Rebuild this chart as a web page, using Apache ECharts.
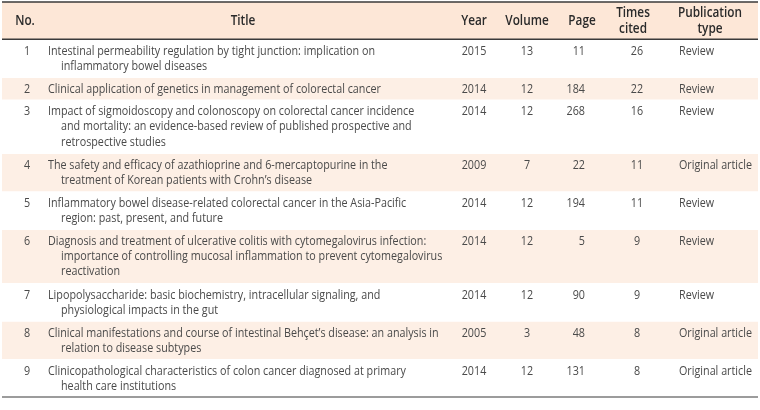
<!DOCTYPE html>
<html><head><meta charset="utf-8">
<script src="https://cdn.jsdelivr.net/npm/echarts@6/dist/echarts.min.js"></script>
<style>html,body{margin:0;padding:0;background:#fff}#c{width:760px;height:410px}</style>
</head><body><div id="c"></div>
<script>
// ---------- data ----------
const headerLabels = ['No.', 'Title', 'Year', 'Volume', 'Page', 'Times\ncited', 'Publication\ntype'];
const nos = ['1', '2', '3', '4', '5', '6', '7', '8', '9'];
const titles = [
  ['Intestinal permeability regulation by tight junction: implication on', 'inflammatory bowel diseases'],
  ['Clinical application of genetics in management of colorectal cancer'],
  ['Impact of sigmoidoscopy and colonoscopy on colorectal cancer incidence', 'and mortality: an evidence-based review of published prospective and', 'retrospective studies'],
  ['The safety and efficacy of azathioprine and 6-mercaptopurine in the', 'treatment of Korean patients with Crohn\u2019s disease'],
  ['Inflammatory bowel disease-related colorectal cancer in the Asia-Pacific', 'region: past, present, and future'],
  ['Diagnosis and treatment of ulcerative colitis with cytomegalovirus infection:', 'importance of controlling mucosal inflammation to prevent cytomegalovirus', 'reactivation'],
  ['Lipopolysaccharide: basic biochemistry, intracellular signaling, and', 'physiological impacts in the gut'],
  ['Clinical manifestations and course of intestinal Beh\u00e7et\u2019s disease: an analysis in', 'relation to disease subtypes'],
  ['Clinicopathological characteristics of colon cancer diagnosed at primary', 'health care institutions']
];
const years = [2015, 2014, 2014, 2009, 2014, 2014, 2014, 2005, 2014];
const volumes = [13, 12, 12, 7, 12, 12, 12, 3, 12];
const pages = [11, 184, 268, 22, 194, 5, 90, 48, 131];
const timesCited = [26, 22, 16, 11, 11, 9, 9, 8, 8];
const pubTypes = ['Review', 'Review', 'Review', 'Original article', 'Review', 'Review', 'Review', 'Original article', 'Original article'];

// ---------- layout / style ----------
const PAD = 0.42;           // row padding in line units
const HEAD = 2.375;         // header height in line units
const COLS = {
  no:    { hx: 25,  bx: 27,  align: 'center' },
  title: { hx: 243, bx: 48,  indent: 61 },
  year:  { hx: 474, bx: 474, align: 'center' },
  vol:   { hx: 527, bx: 527, align: 'center' },
  page:  { hx: 582, bx: 585, align: 'right' },
  cited: { hx: 633, bx: 637, align: 'center' },
  type:  { hx: 710, bx: 679, align: 'left' }
};
const BODY_FONT = '13px "Open Sans", sans-serif';
const HEAD_FONT = '600 14px "Open Sans", sans-serif';
const BODY_COLOR = '#4a4a4a';
const HEAD_COLOR = '#2a2a2a';
const HEAD_BG = '#fde7d7';
const BAND_BG = '#fdefe5';
const RULE = '#3a3a3a';

// horizontal condensing so the typeface matches the reference's narrow face
const mctx = document.createElement('canvas').getContext('2d');
function measure(font, s) { mctx.font = font; return mctx.measureText(s).width; }
const BODY_SX = 327 / measure(BODY_FONT, 'Intestinal permeability regulation by tight junction: implication on');
const HEAD_SX = 64 / measure(HEAD_FONT, 'Publication');

// row extents on the (line-unit) value axis
const rowData = [];
let acc = HEAD;
titles.forEach((t, i) => {
  const h = PAD + t.length;
  rowData.push([i, acc, acc + h]);
  acc += h;
});
const TOTAL = acc;

function txt(x, y, s, font, fill, align, sx) {
  return { type: 'text', x: x, y: y, scaleX: sx, silent: true,
    style: { text: String(s), font: font, fill: fill, align: align || 'left', verticalAlign: 'middle' } };
}

function renderHeader(params, api) {
  const y0 = api.coord([0, api.value(0)])[1];
  const y1 = api.coord([760, api.value(1)])[1];
  const cy = (y0 + y1) / 2;
  const keys = ['no', 'title', 'year', 'vol', 'page', 'cited', 'type'];
  const children = [
    { type: 'rect', shape: { x: 2, y: y0, width: 756, height: y1 - y0 }, style: { fill: HEAD_BG } }
  ];
  keys.forEach((k, i) => {
    const lines = headerLabels[i].split('\n');
    lines.forEach((ln, j) => {
      const y = cy + (j - (lines.length - 1) / 2) * 16;
      children.push(txt(COLS[k].hx, y, ln, HEAD_FONT, HEAD_COLOR, 'center', HEAD_SX));
    });
  });
  children.push({ type: 'line', shape: { x1: 2, y1: y0, x2: 758, y2: y0 }, style: { stroke: RULE, lineWidth: 1.6 } });
  children.push({ type: 'line', shape: { x1: 2, y1: y1, x2: 758, y2: y1 }, style: { stroke: RULE, lineWidth: 1.4 } });
  return { type: 'group', children: children };
}

function renderRow(params, api) {
  const i = api.value(0);
  const y0 = api.coord([0, api.value(1)])[1];
  const y1 = api.coord([760, api.value(2)])[1];
  const children = [];
  if (i % 2 === 1) {
    children.push({ type: 'rect', shape: { x: 2, y: y0 + 0.7, width: 756, height: y1 - y0 - 0.7 }, style: { fill: BAND_BG } });
  }
  const ty = y0 + 12;
  const S = BODY_SX;
  children.push(txt(COLS.no.bx, ty, nos[i], BODY_FONT, BODY_COLOR, 'center', S));
  titles[i].forEach((ln, j) => {
    children.push(txt(j === 0 ? COLS.title.bx : COLS.title.indent, ty + j * 15.2, ln, BODY_FONT, BODY_COLOR, 'left', S));
  });
  children.push(txt(COLS.year.bx, ty, years[i], BODY_FONT, BODY_COLOR, COLS.year.align, S));
  children.push(txt(COLS.vol.bx, ty, volumes[i], BODY_FONT, BODY_COLOR, COLS.vol.align, S));
  children.push(txt(COLS.page.bx, ty, pages[i], BODY_FONT, BODY_COLOR, COLS.page.align, S));
  children.push(txt(COLS.cited.bx, ty, timesCited[i], BODY_FONT, BODY_COLOR, COLS.cited.align, S));
  children.push(txt(COLS.type.bx, ty, pubTypes[i], BODY_FONT, BODY_COLOR, COLS.type.align, S));
  if (i === titles.length - 1) {
    children.push({ type: 'line', shape: { x1: 2, y1: y1, x2: 758, y2: y1 }, style: { stroke: RULE, lineWidth: 1.2 } });
  }
  return { type: 'group', children: children };
}

const chart = echarts.init(document.getElementById('c'), null, { renderer: 'canvas' });
chart.setOption({
  animation: false,
  backgroundColor: '#ffffff',
  grid: { left: 0, right: 0, top: 2, bottom: 13 },
  xAxis: { type: 'value', min: 0, max: 760, show: false },
  yAxis: { type: 'value', min: 0, max: TOTAL, inverse: true, show: false },
  series: [
    { type: 'custom', silent: true, renderItem: renderHeader, data: [[0, HEAD]], encode: { y: [0, 1] } },
    { type: 'custom', silent: true, renderItem: renderRow, data: rowData, encode: { y: [1, 2] } }
  ]
});
</script>
</body></html>
